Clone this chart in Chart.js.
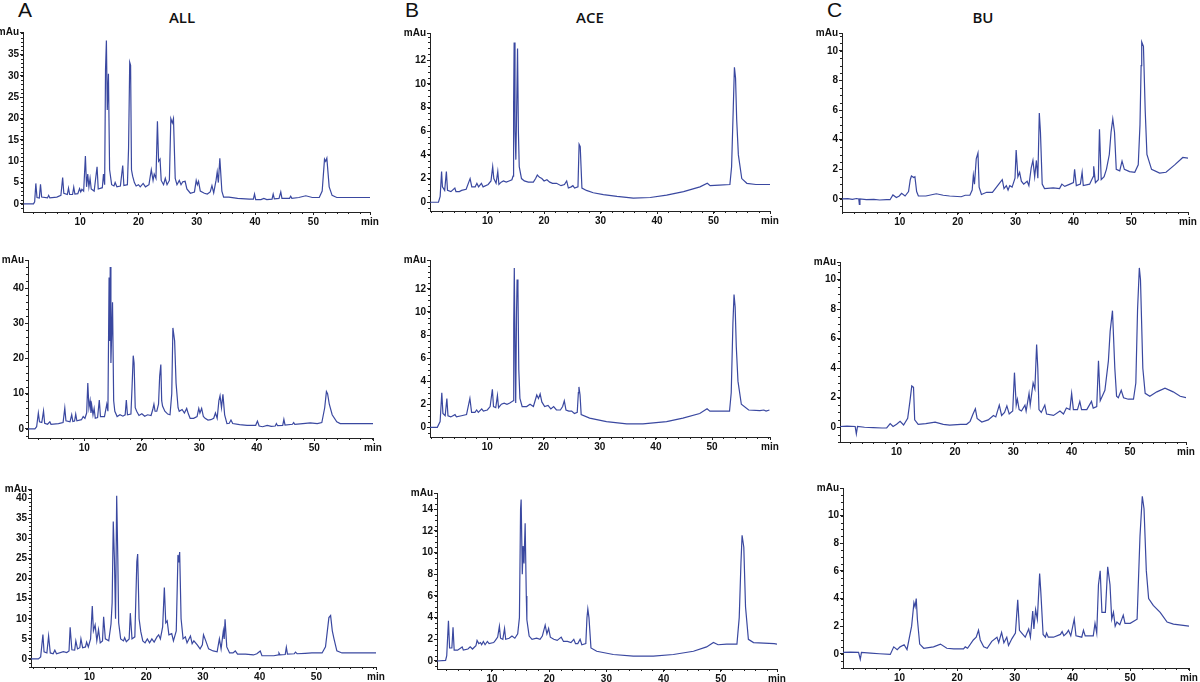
<!DOCTYPE html>
<html><head><meta charset="utf-8">
<script src="https://cdn.jsdelivr.net/npm/chart.js@4.4.1/dist/chart.umd.min.js"></script>
<style>
html,body{margin:0;padding:0;background:#fff;width:1200px;height:682px;overflow:hidden;position:relative;font-family:"Liberation Sans",Arial,sans-serif}
canvas{position:absolute}
.lbl{position:absolute;color:#111;white-space:nowrap;line-height:1}
.big{font-size:21px}
.ttl{font-size:15px;font-family:"Open Sans","Liberation Sans",Arial,sans-serif;font-weight:600;transform:translateX(-50%)}
</style></head><body>
<div class="lbl big" style="left:18px;top:-1px">A</div>
<div class="lbl big" style="left:405px;top:-1px">B</div>
<div class="lbl big" style="left:827px;top:-1px">C</div>
<div class="lbl ttl" style="left:182px;top:10px">ALL</div>
<div class="lbl ttl" style="left:590px;top:10px">ACE</div>
<div class="lbl ttl" style="left:983px;top:10px">BU</div>
<script>
// ---------- data: [time (min), absorbance (mAu)] ----------
const xTicks = [10, 20, 30, 40, 50];
const yTicksAll1 = [0, 5, 10, 15, 20, 25, 30, 35];
const yTicksAll2 = [0, 10, 20, 30, 40];
const yTicksAll3 = [0, 5, 10, 15, 20, 25, 30, 35, 40];
const yTicksAce12 = [0, 2, 4, 6, 8, 10, 12];
const yTicksAce3 = [0, 2, 4, 6, 8, 10, 12, 14];
const yTicksBu = [0, 2, 4, 6, 8, 10];

const all1 = [[0.3,0],[2.0,0],[2.2,0.5],[2.4,4.8],[2.6,1.5],[3.0,1.4],[3.2,4.6],[3.4,1.6],[4.4,1.4],[4.6,2.0],[4.8,1.4],[6.0,1.6],[6.7,2.0],[7.0,6.2],[7.2,2.5],[7.8,2.2],[8.0,3.7],[8.2,2.2],[8.7,2.2],[8.9,3.9],[9.1,2.3],[9.6,2.4],[9.9,3.6],[10.1,2.8],[10.3,3.4],[10.6,3.0],[10.9,11.2],[11.1,4.0],[11.3,7.0],[11.5,4.0],[11.7,6.0],[11.9,3.5],[12.4,3.0],[12.9,8.7],[13.1,3.5],[13.8,3.8],[14.0,7.0],[14.2,4.5],[14.35,31.4],[14.5,38.3],[14.65,22],[14.85,30.5],[15.05,8],[15.4,4.5],[15.8,4.2],[16.0,5.0],[16.3,4.0],[16.9,4.2],[17.3,9.0],[17.5,4.3],[18.1,4.5],[18.3,13],[18.5,33.2],[18.65,32.5],[18.8,8],[19.0,6.5],[19.3,5.0],[19.6,4.2],[20.0,4.5],[20.3,4.0],[20.8,4.8],[21.2,4.0],[21.8,4.5],[22.2,8.0],[22.5,5.5],[22.7,7.0],[23.0,6.0],[23.25,19.4],[23.45,10],[23.7,10.5],[23.9,5.5],[24.3,4.5],[24.6,6.0],[24.9,4.5],[25.3,5.5],[25.55,20],[25.8,19],[26.0,20],[26.3,6],[26.6,4.5],[27.0,5.5],[27.3,4.5],[27.6,5.2],[28.0,5.3],[28.3,3.5],[28.9,2.5],[29.6,2.8],[29.9,5.5],[30.1,4.5],[30.3,5.3],[30.6,3],[31.3,2.5],[31.8,2.3],[32.3,2.8],[32.6,4.3],[32.9,2.6],[33.3,5.5],[33.5,7.5],[33.7,5],[33.95,10.7],[34.3,3],[34.6,1.6],[35.5,1.6],[37.0,1.3],[39.0,1.1],[39.7,1.1],[39.9,2.3],[40.1,1.0],[41.0,1.0],[41.5,1.3],[42.0,1.0],[42.9,1.1],[43.1,2.3],[43.3,1.2],[44.1,1.3],[44.4,2.8],[44.6,1.3],[45.9,1.3],[46.1,1.8],[46.3,1.3],[47.5,1.5],[48.7,1.9],[49.8,1.5],[51.0,1.5],[51.5,3],[51.9,10.5],[52.1,10.0],[52.3,10.7],[52.7,4],[53.2,2],[54,1.5],[59.7,1.5]];

const all2 = [[0.2,0],[1.4,0],[1.7,0.6],[2.0,4.5],[2.2,2.0],[2.6,1.8],[2.9,5.1],[3.1,1.6],[3.6,1.3],[4.0,2.0],[4.2,1.3],[5.5,1.5],[6.3,1.8],[6.6,5.9],[6.8,2.3],[7.5,2.0],[7.8,4.0],[8.0,2.1],[8.3,2.2],[8.5,4.2],[8.7,2.3],[9.5,2.6],[9.8,3.5],[10.1,3.0],[10.4,4.5],[10.6,13.0],[10.8,6],[11.0,8.0],[11.15,4.5],[11.3,6.5],[11.5,4],[11.7,5.8],[11.9,3.0],[12.3,3.2],[12.6,8.2],[12.8,3.5],[13.5,3.5],[13.9,7.0],[14.1,5],[14.3,43],[14.42,25],[14.5,46],[14.62,18.7],[14.9,36],[15.1,8],[15.3,5],[15.7,3.5],[16.2,4.0],[16.7,3.6],[17.1,4],[17.3,8.2],[17.5,4],[18.1,4.2],[18.3,12],[18.5,20.8],[18.65,18.7],[18.85,6],[19.1,5],[19.5,3.8],[20.0,4.3],[20.5,3.6],[21.0,4.0],[21.6,3.8],[21.9,5.5],[22.1,7.0],[22.3,5.0],[22.6,5.0],[22.9,7.0],[23.1,15],[23.3,18.3],[23.45,8],[23.6,6.5],[24.0,5.0],[24.5,4.2],[24.9,4.0],[25.2,10],[25.4,28.7],[25.7,25],[25.95,13],[26.3,6],[26.5,5.0],[27.0,5.5],[27.4,4.5],[27.8,5.8],[28.1,4.2],[28.4,3.0],[29.0,3.0],[29.6,3.5],[29.9,5.8],[30.1,4.5],[30.4,5.8],[30.7,3.5],[31.0,3.0],[31.5,2.5],[32.0,2.6],[32.5,3.0],[32.8,4.5],[33.1,3.0],[33.4,8.0],[33.6,9.4],[33.85,6],[34.1,9.8],[34.4,4],[34.8,1.5],[35.2,1.6],[35.5,2.5],[35.8,1.5],[37.0,1.2],[38.3,1.0],[39.8,1.0],[40.1,2.2],[40.4,0.8],[41.0,0.6],[41.8,1.0],[42.5,0.7],[43.2,0.8],[43.4,1.5],[43.6,0.9],[44.5,1.0],[44.7,2.7],[44.9,1.1],[46.2,1.3],[46.4,1.8],[46.6,1.3],[48.0,1.5],[49.3,1.7],[50.5,1.5],[51.3,1.8],[51.8,6],[52.1,10.6],[52.3,10.0],[52.6,7],[53.1,4],[53.9,2.0],[54.5,1.5],[60.2,1.5]];

const all3 = [[-0.3,0],[1.0,0],[1.4,0.5],[1.8,6.1],[2.0,1.8],[2.5,1.5],[2.8,5.7],[3.1,1.5],[3.6,1.3],[3.9,2.2],[4.2,1.3],[5.4,1.8],[6.0,1.6],[6.4,2.0],[6.6,7.9],[6.9,2.3],[7.4,2.2],[7.6,4.5],[7.9,2.5],[8.3,2.8],[8.5,5.0],[8.8,2.8],[9.3,3.0],[9.5,4.2],[9.8,3.0],[10.2,5.0],[10.5,13.2],[10.7,7.0],[11.0,8.5],[11.3,4.5],[11.6,7.3],[11.9,4.0],[12.3,4.5],[12.5,10.5],[12.8,5.0],[13.4,4.5],[13.8,8.7],[14.0,14],[14.2,34.2],[14.4,25],[14.6,10],[14.8,40.6],[15.0,25],[15.15,9],[15.5,5.0],[16.0,4.5],[16.2,5.3],[16.5,4.3],[17.0,5],[17.2,11.4],[17.5,5.0],[18.0,5.5],[18.35,24.2],[18.5,26.1],[18.75,10],[19.05,6.8],[19.4,4.5],[19.8,4.0],[20.2,5.0],[20.6,4.0],[21.0,5.0],[21.4,4.2],[21.9,5.5],[22.2,6.0],[22.5,5.0],[22.9,8.0],[23.2,17.8],[23.45,9],[23.7,9.5],[24.0,6.0],[24.5,6.3],[24.8,4.5],[25.3,7.0],[25.6,25.9],[25.75,24],[25.9,26.6],[26.15,10],[26.5,5.0],[26.9,5.5],[27.2,4.0],[27.8,5.7],[28.1,3.8],[28.4,4.5],[29.0,3.5],[29.5,2.5],[29.9,3.5],[30.1,6.0],[30.5,4.5],[31.0,2.5],[31.8,2.0],[32.5,1.8],[32.9,5.0],[33.2,2.5],[33.6,7.0],[33.75,5],[33.9,9.9],[34.2,3.0],[34.7,1.5],[35.3,1.5],[35.7,2.0],[36.1,1.2],[37.5,1.2],[38.9,1.0],[39.5,1.3],[40.1,2.0],[40.4,0.8],[42.5,0.8],[43.3,1.0],[43.4,1.5],[43.6,1.0],[44.5,1.1],[44.7,2.9],[44.9,1.2],[46.1,1.3],[46.3,1.7],[46.6,1.3],[48.0,1.4],[49.2,1.5],[51.0,1.5],[51.6,3],[52.2,10.3],[52.5,10.8],[52.8,7],[53.1,5.0],[53.6,2.0],[54.5,1.5],[60.5,1.5]];

const ace1 = [[-0.2,0],[1.3,0],[1.6,0.5],[1.85,2.6],[2.0,1.3],[2.4,1.0],[2.7,2.6],[2.9,1.0],[3.5,0.9],[4.2,1.2],[4.4,0.9],[5.0,0.9],[5.4,1.0],[6.2,1.1],[6.9,2.0],[7.2,1.3],[7.8,1.3],[8.1,1.6],[8.4,1.3],[8.9,1.6],[9.2,1.3],[10.1,1.5],[10.6,1.8],[10.9,3.0],[11.1,2.0],[11.5,1.6],[11.8,2.6],[12.0,1.5],[12.4,1.7],[12.8,1.8],[13.3,1.7],[13.8,1.8],[14.3,1.9],[14.5,2.2],[14.6,8],[14.7,13.5],[14.85,6],[15.0,3.6],[15.15,8],[15.3,13.0],[15.45,6],[15.6,3.0],[16.0,2.0],[16.5,1.8],[17.2,1.7],[18.1,1.7],[18.5,2.0],[18.8,2.3],[19.2,2.1],[19.6,2.0],[20.0,1.8],[20.5,1.9],[21.0,1.7],[21.5,1.6],[22.2,1.6],[23.0,1.4],[23.6,1.5],[24.0,1.8],[24.3,1.2],[24.8,1.3],[25.1,1.4],[25.4,1.2],[26.0,1.3],[26.2,4.9],[26.4,4.7],[26.7,1.2],[27.5,1.0],[28.7,0.8],[30.5,0.65],[32.9,0.5],[35.8,0.35],[38.8,0.4],[41.7,0.6],[44.7,0.9],[47.6,1.3],[48.9,1.6],[49.4,1.4],[51.0,1.45],[52.9,1.5],[53.2,3.0],[53.5,8],[53.7,11.4],[53.9,10.5],[54.1,7],[54.4,4.0],[55.0,2.0],[55.9,1.6],[57.5,1.5],[60.0,1.5]];

const ace2 = [[-0.2,0],[1.1,0],[1.6,0.5],[1.9,3.0],[2.1,1.2],[2.5,1.0],[2.8,2.5],[3.0,1.0],[3.5,0.9],[4.25,1.1],[4.5,0.9],[5.4,1.0],[6.3,1.1],[6.9,2.5],[7.2,1.3],[7.8,1.3],[8.1,1.5],[8.4,1.3],[9.0,1.6],[9.3,1.4],[10.0,1.5],[10.5,1.8],[10.9,3.3],[11.1,1.8],[11.5,1.7],[11.8,2.75],[12.0,1.7],[12.5,2.0],[13.0,2.1],[13.5,2.0],[14.0,2.1],[14.6,2.3],[14.7,9],[14.8,13.8],[14.95,6],[15.05,2.1],[15.2,10],[15.3,12.8],[15.45,12],[15.6,5],[15.8,2.5],[16.2,1.8],[17.0,1.8],[17.6,2.0],[18.2,1.8],[18.8,2.8],[19.1,2.5],[19.4,2.9],[19.7,2.2],[20.2,1.8],[20.8,1.9],[21.3,1.6],[21.8,1.8],[22.3,1.5],[23.0,1.5],[23.4,1.8],[23.7,2.3],[24.0,1.5],[24.5,1.4],[25.0,1.4],[25.5,1.2],[26.0,1.3],[26.2,3.0],[26.3,3.5],[26.5,2.8],[26.7,1.1],[28.2,0.8],[31.2,0.5],[34.8,0.3],[37.7,0.3],[41.9,0.5],[44.8,0.8],[47.8,1.2],[49.1,1.6],[49.6,1.4],[51.5,1.4],[53.1,1.4],[53.4,3.0],[53.7,9],[53.9,11.5],[54.1,10.4],[54.3,7],[54.6,4.0],[55.2,2.0],[56.5,1.5],[58.5,1.45],[59.2,1.5],[59.6,1.4],[60.2,1.5]];

const ace3 = [[0.4,0],[1.9,0.05],[2.1,0.5],[2.4,3.7],[2.6,1.2],[3.0,1.2],[3.2,3.1],[3.4,1.0],[4.0,1.0],[4.8,1.3],[5.0,1.0],[5.8,1.1],[6.2,1.3],[6.6,1.1],[7.2,1.4],[7.4,1.9],[7.7,1.6],[8.0,1.7],[8.2,1.5],[8.5,1.8],[8.8,1.5],[9.2,1.8],[9.5,1.6],[10.3,1.7],[10.6,1.9],[11.0,2.2],[11.3,3.2],[11.5,2.1],[11.9,2.0],[12.2,3.0],[12.4,2.0],[13.0,2.1],[13.5,2.3],[14.0,2.1],[14.5,2.5],[14.8,4],[15.0,14.0],[15.1,14.9],[15.3,8],[15.45,10.6],[15.6,9],[15.8,12.7],[16.0,6],[16.1,3.8],[16.5,2.3],[17.0,2.0],[17.8,2.1],[18.4,2.0],[18.8,2.3],[19.3,3.3],[19.6,2.5],[19.9,3.0],[20.2,2.2],[20.8,2.0],[21.4,1.9],[22.1,2.2],[22.5,1.8],[23.2,1.8],[23.8,1.7],[24.3,2.0],[24.6,1.6],[25.0,1.6],[25.4,2.0],[25.7,1.5],[26.4,1.6],[26.6,4.0],[26.75,4.8],[26.95,4.0],[27.3,1.2],[28.3,0.9],[31.2,0.6],[34.7,0.45],[38.2,0.45],[41.7,0.6],[45.2,0.9],[47.5,1.3],[48.7,1.7],[49.5,1.5],[51.0,1.55],[52.8,1.55],[53.2,4.0],[53.5,9],[53.7,11.6],[54.0,10.5],[54.3,5],[54.8,2.0],[55.7,1.7],[57.5,1.65],[59.3,1.6],[59.8,1.55]];

const bu1 = [[0,0],[1.0,0.02],[1.8,-0.03],[2.5,0.03],[2.9,0],[3.0,-0.36],[3.1,0],[4.2,-0.05],[5.5,-0.03],[6.5,-0.07],[7.7,-0.05],[8.3,-0.05],[8.8,0.27],[9.4,0.1],[9.9,0.2],[10.3,0.38],[10.9,0.2],[11.5,0.5],[11.8,1.3],[12.0,1.55],[12.4,1.45],[12.6,1.5],[12.9,0.5],[13.2,0.2],[14.5,0.2],[16.3,0.35],[17.5,0.25],[18.6,0.2],[20.6,0.15],[21.3,0.25],[22.1,0.25],[22.5,0.6],[22.7,1.6],[22.9,1.0],[23.2,2.7],[23.5,3.1],[23.7,0.8],[24.1,0.3],[25.0,0.45],[26.0,0.45],[26.7,0.8],[27.3,1.1],[27.7,1.3],[28.0,0.7],[28.4,0.9],[28.7,0.6],[29.0,0.9],[29.4,0.8],[29.9,1.4],[30.1,3.3],[30.4,1.5],[30.7,1.8],[31.0,1.2],[31.4,1.0],[32.0,1.2],[32.3,0.9],[32.7,2.1],[33.0,2.6],[33.3,1.5],[33.6,2.6],[33.85,1.4],[34.1,5.8],[34.3,4.5],[34.6,1.0],[35.0,0.7],[36.5,0.75],[37.6,0.7],[38.0,1.0],[38.5,0.85],[39.4,1.0],[40.0,1.1],[40.2,2.0],[40.5,0.9],[41.2,1.0],[41.5,1.8],[41.7,0.9],[42.8,1.0],[43.4,1.5],[43.5,2.2],[43.8,1.1],[44.3,1.3],[44.5,4.7],[44.8,1.3],[45.3,1.5],[45.7,2.0],[46.2,3.0],[46.5,4.5],[46.8,5.4],[47.1,4.5],[47.4,2.0],[48.0,1.9],[48.4,2.55],[48.8,2.0],[49.7,1.85],[50.6,1.8],[51.2,2.3],[51.5,5],[51.7,9],[51.8,10.6],[52.1,10.3],[52.4,6],[52.7,3.0],[53.5,2.0],[54.9,1.75],[56.0,1.8],[57.5,2.3],[58.9,2.8],[59.8,2.75]];

const bu2 = [[0.3,0.05],[1.5,0.08],[2.9,0.05],[3.1,-0.45],[3.3,0.05],[4.5,0],[6.0,-0.02],[7.5,-0.05],[8.3,-0.05],[8.9,0.25],[9.4,0.05],[10.0,0.2],[10.6,0.4],[11.2,0.15],[11.9,0.6],[12.3,1.8],[12.6,2.8],[12.9,2.7],[13.1,0.5],[13.7,0.2],[15.0,0.25],[16.6,0.35],[18.0,0.2],[19.1,0.15],[21.0,0.2],[22.0,0.2],[22.6,0.4],[23.1,0.9],[23.5,1.25],[23.8,0.6],[24.6,0.35],[25.7,0.5],[26.6,0.8],[27.0,0.7],[27.6,1.5],[28.0,0.8],[28.5,1.0],[28.9,1.45],[29.3,0.9],[29.9,1.1],[30.2,3.7],[30.5,1.5],[30.7,1.9],[31.0,1.2],[31.4,1.1],[32.0,1.5],[32.2,1.1],[32.7,2.3],[32.9,1.5],[33.4,3.0],[33.7,2.6],[34.0,5.6],[34.2,4.0],[34.4,1.2],[34.8,1.0],[35.4,1.5],[35.7,0.9],[36.9,0.8],[38.0,1.1],[38.6,0.9],[39.1,1.3],[39.7,1.2],[40.0,2.3],[40.3,1.2],[41.0,1.2],[41.4,1.75],[41.7,1.2],[42.6,1.2],[43.4,1.75],[43.7,1.3],[44.3,1.4],[44.6,4.5],[44.9,1.8],[45.7,2.5],[46.3,4.5],[46.6,6.5],[47.0,7.9],[47.4,4.0],[47.7,2.1],[48.0,2.0],[48.5,2.5],[48.9,2.0],[49.7,1.9],[50.6,1.9],[51.0,3.0],[51.3,8.0],[51.6,10.8],[51.8,10.0],[52.2,4.0],[52.6,2.3],[53.4,2.1],[54.6,2.4],[56.0,2.65],[57.4,2.4],[58.6,2.1],[59.6,2.0]];

const bu3 = [[0.2,0.1],[1.5,0.12],[2.9,0.1],[3.2,-0.4],[3.4,0.1],[5.0,0.05],[6.5,0],[8.4,-0.05],[9.0,0.5],[9.6,0.3],[10.1,0.5],[10.8,0.65],[11.3,0.3],[12.1,2.0],[12.5,3.7],[12.7,3.4],[12.9,4.0],[13.1,2.5],[13.5,0.7],[14.2,0.4],[15.9,0.5],[17.1,0.7],[18.2,0.4],[19.4,0.35],[21.1,0.35],[21.4,0.5],[21.8,0.4],[22.8,1.0],[23.3,1.2],[23.7,1.7],[24.0,1.0],[24.6,0.5],[25.2,0.4],[26.0,0.9],[26.9,1.2],[27.2,0.8],[27.7,1.55],[28.1,0.8],[28.6,1.2],[28.9,0.6],[29.5,1.1],[30.1,1.5],[30.5,3.9],[30.8,1.7],[31.2,1.5],[31.8,1.2],[32.4,1.8],[32.7,1.2],[33.1,3.1],[33.3,1.8],[33.6,3.2],[33.9,2.5],[34.3,5.8],[34.5,4.5],[34.9,1.4],[35.3,1.2],[35.5,1.5],[35.8,1.2],[36.7,1.2],[37.9,1.4],[38.2,1.6],[38.5,1.3],[39.0,1.5],[39.3,1.7],[39.7,1.3],[40.3,2.5],[40.6,1.3],[41.6,1.2],[41.9,1.7],[42.2,1.3],[43.6,1.3],[43.9,2.2],[44.2,1.5],[44.5,5.0],[44.8,6.0],[45.1,3.0],[45.7,3.0],[46.1,6.3],[46.5,5.0],[46.8,2.5],[47.1,3.0],[47.4,2.0],[47.7,2.3],[48.2,2.1],[48.8,2.8],[49.1,2.2],[50.0,2.2],[51.2,2.5],[51.7,8.5],[52.1,11.4],[52.4,10.5],[52.8,6.0],[53.2,4.0],[54.0,3.5],[55.2,3.0],[56.4,2.3],[57.5,2.15],[59.2,2.05],[60.2,2.0]];

// ---------- layout (plot box in page pixels: left, right, top, bottom) ----------
const panels = [
  {data: all1, box: [23, 370, 32, 212],  x: [0.2, 59.7],  y: [-1.9, 40.3], yTicks: yTicksAll1, yMinor: 1},
  {data: all2, box: [28, 373, 260, 438], x: [0.2, 60.2],  y: [-2.6, 48.0], yTicks: yTicksAll2, yMinor: 2},
  {data: all3, box: [31, 376, 489, 667], x: [-0.3, 60.5], y: [-2.0, 42.3], yTicks: yTicksAll3, yMinor: 1},
  {data: ace1, box: [430, 770, 33, 211], x: [-0.2, 60.0], y: [-0.74, 14.3], yTicks: yTicksAce12, yMinor: 0.5},
  {data: ace2, box: [430, 770, 260, 437],x: [-0.2, 60.3], y: [-0.84, 14.5], yTicks: yTicksAce12, yMinor: 0.5},
  {data: ace3, box: [437, 777, 493, 669],x: [0.4, 59.8],  y: [-0.74, 15.5], yTicks: yTicksAce3, yMinor: 0.5},
  {data: bu1,  box: [842, 1188, 33, 212],x: [0.0, 59.8],  y: [-0.88, 11.2], yTicks: yTicksBu, yMinor: 0.5},
  {data: bu2,  box: [840, 1186, 262, 442],x: [0.3, 59.6], y: [-1.0, 11.2], yTicks: yTicksBu, yMinor: 0.5},
  {data: bu3,  box: [843, 1189, 488, 668],x: [0.2, 60.2], y: [-1.03, 12.0], yTicks: yTicksBu, yMinor: 0.5}
];

const LINE = '#3a48a0', AX = '#222', TXT = '#111';
const FONT = {family: '"Liberation Sans", Arial, sans-serif', size: 10, weight: 'bold'};
const Y_W = 30, X_H = 20, PAD_T = 8, PAD_R = 14;

const minorTicks = {
  id: 'minor',
  afterDraw(chart, args, o) {
    const {ctx, chartArea: a} = chart;
    const x = chart.scales.x, y = chart.scales.y;
    ctx.save();
    ctx.strokeStyle = AX; ctx.lineWidth = 1; ctx.beginPath();
    for (let i = Math.ceil(x.min / o.xStep); i * o.xStep <= x.max; i++) {
      const px = Math.round(x.getPixelForValue(i * o.xStep)) + 0.5;
      ctx.moveTo(px, a.bottom); ctx.lineTo(px, a.bottom + 2);
    }
    for (let i = Math.ceil(y.min / o.yStep); i * o.yStep <= y.max; i++) {
      const py = Math.round(y.getPixelForValue(i * o.yStep)) + 0.5;
      ctx.moveTo(a.left - 2, py); ctx.lineTo(a.left, py);
    }
    ctx.stroke(); ctx.restore();
  }
};

panels.forEach(p => {
  const [L, R, T, B] = p.box;
  const left = L - Y_W, top = T - PAD_T;
  const w = R + PAD_R - left, h = B + X_H - top;
  const cv = document.createElement('canvas');
  cv.width = w; cv.height = h;
  cv.style.left = left + 'px'; cv.style.top = top + 'px';
  cv.style.width = w + 'px'; cv.style.height = h + 'px';
  document.body.appendChild(cv);
  new Chart(cv, {
    type: 'line',
    data: {datasets: [{
      data: p.data.map(([t, v]) => ({x: t, y: v})),
      borderColor: LINE, borderWidth: 1.2, pointRadius: 0, tension: 0, fill: false
    }]},
    options: {
      responsive: false, animation: false, devicePixelRatio: 1,
      layout: {padding: {left: 0, right: PAD_R, top: PAD_T, bottom: 0}},
      plugins: {legend: {display: false}, tooltip: {enabled: false},
                minor: {xStep: 2, yStep: p.yMinor}},
      scales: {
        x: {
          type: 'linear', min: p.x[0], max: p.x[1],
          border: {display: true, color: AX, width: 1},
          grid: {display: true, drawOnChartArea: false, drawTicks: true, tickLength: 3, color: AX, lineWidth: 1},
          ticks: {autoSkip: false, maxRotation: 0, minRotation: 0, padding: 1, color: TXT, font: FONT,
                  callback: v => v === p.x[1] ? 'min' : String(v)},
          afterBuildTicks: s => { s.ticks = [...xTicks, p.x[1]].map(v => ({value: v})); },
          afterFit: s => { s.height = X_H; }
        },
        y: {
          type: 'linear', min: p.y[0], max: p.y[1],
          border: {display: true, color: AX, width: 1},
          grid: {display: true, drawOnChartArea: false, drawTicks: true, tickLength: 3, color: AX, lineWidth: 1},
          ticks: {autoSkip: false, padding: 1, color: TXT, font: FONT,
                  callback: v => v === p.y[1] ? 'mAu' : String(v)},
          afterBuildTicks: s => { s.ticks = [...p.yTicks, p.y[1]].map(v => ({value: v})); },
          afterFit: s => { s.width = Y_W; }
        }
      }
    },
    plugins: [minorTicks]
  });
});
</script>
</body></html>
